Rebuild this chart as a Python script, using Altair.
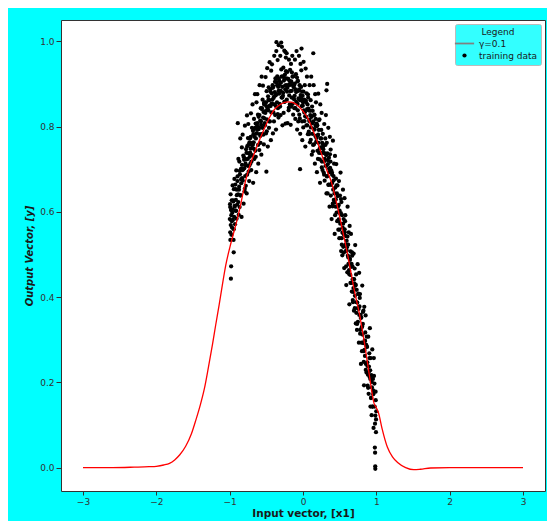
import altair as alt
import pandas as pd

# ---- red fitted curve (gamma = 0.1) ----
curve_x = [-3.0, -2.6, -2.3, -2.1, -2.0, -1.9, -1.82, -1.75, -1.68, -1.6, -1.52, -1.46, -1.4, -1.345,
           -1.29, -1.233, -1.19, -1.143, -1.1, -1.053, -1.0, -0.95, -0.9, -0.85, -0.78, -0.7, -0.62,
           -0.54, -0.46, -0.4, -0.3, -0.2, -0.12, -0.05, 0.0, 0.07, 0.12, 0.2, 0.25, 0.32, 0.39, 0.45,
           0.5, 0.56, 0.61, 0.66, 0.7, 0.77, 0.84, 0.9, 0.97, 1.0, 1.03, 1.08, 1.15, 1.22, 1.29, 1.4,
           1.51, 1.6, 1.74, 2.0, 2.5, 3.0]
curve_y = [0.0, 0.0, 0.001, 0.002, 0.003, 0.006, 0.01, 0.018, 0.03, 0.05, 0.08, 0.112, 0.147, 0.185,
           0.235, 0.29, 0.335, 0.382, 0.428, 0.475, 0.515, 0.548, 0.58, 0.617, 0.675, 0.72, 0.757,
           0.79, 0.82, 0.838, 0.853, 0.858, 0.855, 0.846, 0.836, 0.818, 0.798, 0.762, 0.737, 0.7, 0.668,
           0.627, 0.588, 0.54, 0.498, 0.452, 0.415, 0.36, 0.29, 0.222, 0.15, 0.14, 0.128, 0.09, 0.048,
           0.025, 0.012, 0.0, -0.005, -0.004, -0.001, 0.0, 0.0, 0.0]

# ---- training data, grouped by x slices ----
train_x = [
    [-0.998, -0.995, -0.992, -0.99, -0.987, -0.985, -0.982, -0.98, -0.978, -0.976, -0.983, -0.993],
    [-0.972, -0.968, -0.964, -0.96, -0.955, -0.951, -0.947, -0.943, -0.939, -0.935, -0.931, -0.927, -0.945],
    [-0.923, -0.919, -0.915, -0.91, -0.906, -0.902, -0.897, -0.893, -0.889, -0.885, -0.881, -0.877],
    [-0.873, -0.868, -0.864, -0.86, -0.855, -0.851, -0.846, -0.842, -0.838, -0.834, -0.83, -0.826],
    [-0.823, -0.818, -0.814, -0.81, -0.805, -0.801, -0.796, -0.792, -0.788, -0.784, -0.78, -0.776],
    [-0.773, -0.768, -0.764, -0.76, -0.755, -0.751, -0.746, -0.742, -0.738, -0.734, -0.73, -0.726],
    [-0.723, -0.718, -0.714, -0.71, -0.705, -0.701, -0.696, -0.692, -0.688, -0.684, -0.68, -0.676],
    [-0.673, -0.668, -0.664, -0.66, -0.655, -0.651, -0.646, -0.642, -0.638, -0.634, -0.63, -0.626],
    [-0.623, -0.618, -0.614, -0.61, -0.605, -0.601, -0.596, -0.592, -0.588, -0.584, -0.58, -0.576],
    [-0.573, -0.568, -0.564, -0.56, -0.555, -0.551, -0.546, -0.542, -0.538, -0.534, -0.53, -0.526],
    [-0.523, -0.518, -0.514, -0.51, -0.505, -0.501, -0.496, -0.492, -0.488, -0.484, -0.48, -0.476, -0.499],
    [-0.473, -0.468, -0.464, -0.46, -0.455, -0.451, -0.446, -0.442, -0.438, -0.434, -0.43, -0.426],
    [-0.423, -0.418, -0.414, -0.41, -0.405, -0.401, -0.396, -0.392, -0.388, -0.384, -0.38, -0.376],
    [-0.373, -0.368, -0.364, -0.36, -0.355, -0.351, -0.346, -0.342, -0.338, -0.334, -0.33, -0.326, -0.362, -0.332],
    [-0.323, -0.318, -0.314, -0.31, -0.305, -0.301, -0.296, -0.292, -0.288, -0.284, -0.28, -0.276, -0.297],
    [-0.273, -0.268, -0.264, -0.26, -0.255, -0.251, -0.246, -0.242, -0.238, -0.234, -0.23, -0.226, -0.24],
    [-0.223, -0.218, -0.214, -0.21, -0.205, -0.201, -0.196, -0.192, -0.188, -0.184, -0.18, -0.176],
    [-0.173, -0.168, -0.164, -0.16, -0.155, -0.151, -0.146, -0.142, -0.138, -0.134, -0.13, -0.126],
    [-0.123, -0.118, -0.114, -0.11, -0.105, -0.101, -0.096, -0.092, -0.088, -0.084, -0.08, -0.076],
    [-0.073, -0.068, -0.064, -0.06, -0.055, -0.051, -0.046, -0.042, -0.038, -0.034, -0.03, -0.026, -0.04],
    [-0.023, -0.018, -0.014, -0.01, -0.005, -0.001, 0.004, 0.008, 0.012, 0.016, 0.02, 0.024, -0.02],
    [0.027, 0.032, 0.036, 0.04, 0.045, 0.049, 0.054, 0.058, 0.062, 0.066, 0.07, 0.074],
    [0.077, 0.082, 0.086, 0.09, 0.095, 0.099, 0.104, 0.108, 0.112, 0.116, 0.12, 0.124],
    [0.127, 0.132, 0.136, 0.14, 0.145, 0.149, 0.154, 0.158, 0.162, 0.166, 0.17, 0.174, 0.14],
    [0.177, 0.182, 0.186, 0.19, 0.195, 0.199, 0.204, 0.208, 0.212, 0.216, 0.22, 0.224],
    [0.227, 0.232, 0.236, 0.24, 0.245, 0.249, 0.254, 0.258, 0.262, 0.266, 0.27, 0.274],
    [0.277, 0.282, 0.286, 0.29, 0.295, 0.299, 0.304, 0.308, 0.312, 0.316, 0.32, 0.324, 0.33, 0.32],
    [0.327, 0.332, 0.336, 0.34, 0.345, 0.349, 0.354, 0.358, 0.362, 0.366, 0.37, 0.374],
    [0.377, 0.382, 0.386, 0.39, 0.395, 0.399, 0.404, 0.408, 0.412, 0.416, 0.42, 0.424],
    [0.427, 0.432, 0.436, 0.44, 0.445, 0.449, 0.454, 0.458, 0.462, 0.466, 0.47, 0.474],
    [0.477, 0.482, 0.486, 0.49, 0.495, 0.499, 0.504, 0.508, 0.512, 0.516, 0.52, 0.524],
    [0.527, 0.532, 0.536, 0.54, 0.545, 0.549, 0.554, 0.558, 0.562, 0.566, 0.57, 0.574],
    [0.577, 0.582, 0.586, 0.59, 0.595, 0.599, 0.604, 0.608, 0.612, 0.616, 0.62, 0.624],
    [0.627, 0.632, 0.636, 0.64, 0.645, 0.649, 0.654, 0.658, 0.662, 0.666, 0.67, 0.674],
    [0.677, 0.682, 0.686, 0.69, 0.695, 0.699, 0.704, 0.708, 0.712, 0.716, 0.72, 0.724],
    [0.727, 0.732, 0.736, 0.74, 0.745, 0.749, 0.754, 0.758, 0.762, 0.766, 0.77, 0.774],
    [0.777, 0.782, 0.786, 0.79, 0.795, 0.799, 0.804, 0.808, 0.812, 0.816, 0.82, 0.824],
    [0.827, 0.832, 0.836, 0.84, 0.845, 0.849, 0.854, 0.858, 0.862, 0.866, 0.87, 0.874],
    [0.877, 0.882, 0.886, 0.89, 0.895, 0.899, 0.904, 0.908, 0.912, 0.916, 0.92, 0.924],
    [0.927, 0.932, 0.936, 0.94, 0.945, 0.949, 0.954, 0.958, 0.962, 0.966, 0.97, 0.974],
    [0.977, 0.982, 0.986, 0.99, 0.995, 0.999, 0.98, 0.983, 0.985, 0.986, 0.992, 0.996],
    # denser core of the cloud
    [-0.971, -0.962, -0.953, -0.944, -0.932],
    [-0.921, -0.912, -0.903, -0.894, -0.882],
    [-0.871, -0.862, -0.853, -0.844, -0.832],
    [-0.821, -0.812, -0.803, -0.794, -0.782],
    [-0.771, -0.762, -0.753, -0.744, -0.732],
    [-0.721, -0.712, -0.703, -0.694, -0.682],
    [-0.671, -0.662, -0.653, -0.644, -0.632],
    [-0.621, -0.612, -0.603, -0.594, -0.582],
    [-0.571, -0.562, -0.553, -0.544, -0.532],
    [-0.521, -0.512, -0.503, -0.494, -0.482],
    [-0.471, -0.462, -0.453, -0.444, -0.432],
    [-0.421, -0.412, -0.403, -0.394, -0.382],
    [-0.371, -0.362, -0.353, -0.344, -0.332],
    [-0.321, -0.312, -0.303, -0.294, -0.282],
    [-0.271, -0.262, -0.253, -0.244, -0.232],
    [-0.221, -0.212, -0.203, -0.194, -0.182],
    [-0.171, -0.162, -0.153, -0.144, -0.132],
    [-0.121, -0.112, -0.103, -0.094, -0.082],
    [-0.071, -0.062, -0.053, -0.044, -0.032],
    [-0.021, -0.012, -0.003, 0.006, 0.018],
    [0.029, 0.038, 0.047, 0.056, 0.068],
    [0.079, 0.088, 0.097, 0.106, 0.118],
    [0.129, 0.138, 0.147, 0.156, 0.168],
    [0.179, 0.188, 0.197, 0.206, 0.218],
    [0.229, 0.238, 0.247, 0.256, 0.268],
    [0.279, 0.288, 0.297, 0.306, 0.318],
    [0.329, 0.338, 0.347, 0.356, 0.368],
    [0.379, 0.388, 0.397, 0.406, 0.418],
    [0.429, 0.438, 0.447, 0.456, 0.468],
    [0.479, 0.488, 0.497, 0.506, 0.518],
    [0.529, 0.538, 0.547, 0.556, 0.568],
    [0.579, 0.588, 0.597, 0.606, 0.618],
    [0.629, 0.638, 0.647, 0.656, 0.668],
    [0.679, 0.688, 0.697, 0.706, 0.718],
    [0.729, 0.738, 0.747, 0.756, 0.768],
    [0.779, 0.788, 0.797, 0.806, 0.818],
    [0.829, 0.838, 0.847, 0.856, 0.868],
    [0.879, 0.888, 0.897, 0.906, 0.918],
    [0.929, 0.938, 0.947, 0.956, 0.968],
]
train_y = [
    [0.583, 0.618, 0.552, 0.534, 0.641, 0.569, 0.604, 0.472, 0.592, 0.546, 0.443, 0.611],
    [0.627, 0.563, 0.598, 0.662, 0.581, 0.624, 0.534, 0.653, 0.588, 0.677, 0.612, 0.571, 0.505],
    [0.664, 0.603, 0.628, 0.697, 0.584, 0.652, 0.617, 0.683, 0.808, 0.641, 0.724, 0.593],
    [0.652, 0.718, 0.611, 0.688, 0.772, 0.639, 0.701, 0.667, 0.588, 0.751, 0.679, 0.698],
    [0.781, 0.699, 0.732, 0.619, 0.728, 0.702, 0.648, 0.802, 0.684, 0.713, 0.661, 0.747],
    [0.723, 0.643, 0.826, 0.754, 0.708, 0.773, 0.806, 0.694, 0.737, 0.672, 0.763, 0.729],
    [0.772, 0.713, 0.748, 0.831, 0.698, 0.761, 0.797, 0.733, 0.852, 0.758, 0.668, 0.782],
    [0.763, 0.818, 0.724, 0.794, 0.876, 0.743, 0.807, 0.772, 0.693, 0.857, 0.784, 0.801],
    [0.876, 0.793, 0.828, 0.713, 0.823, 0.798, 0.745, 0.897, 0.782, 0.814, 0.762, 0.843],
    [0.812, 0.734, 0.917, 0.843, 0.797, 0.863, 0.896, 0.781, 0.834, 0.758, 0.852, 0.819],
    [0.857, 0.803, 0.832, 0.916, 0.784, 0.848, 0.883, 0.817, 0.937, 0.842, 0.753, 0.871, 0.694],
    [0.838, 0.892, 0.797, 0.862, 0.951, 0.812, 0.887, 0.848, 0.768, 0.931, 0.853, 0.878],
    [0.946, 0.863, 0.897, 0.784, 0.893, 0.867, 0.812, 0.966, 0.852, 0.881, 0.827, 0.913],
    [0.873, 0.793, 0.977, 0.904, 0.857, 0.918, 0.956, 0.843, 0.893, 0.821, 0.912, 0.877, 0.998, 0.991],
    [0.907, 0.853, 0.882, 0.966, 0.827, 0.903, 0.934, 0.868, 0.987, 0.893, 0.803, 0.918, 0.997],
    [0.872, 0.938, 0.832, 0.908, 0.978, 0.858, 0.922, 0.887, 0.807, 0.962, 0.897, 0.913, 0.975],
    [0.972, 0.882, 0.928, 0.808, 0.912, 0.897, 0.838, 0.957, 0.873, 0.907, 0.852, 0.933],
    [0.883, 0.804, 0.947, 0.906, 0.868, 0.927, 0.966, 0.853, 0.897, 0.828, 0.918, 0.892],
    [0.897, 0.843, 0.872, 0.957, 0.818, 0.887, 0.923, 0.858, 0.977, 0.884, 0.793, 0.906],
    [0.853, 0.907, 0.812, 0.884, 0.966, 0.828, 0.897, 0.862, 0.783, 0.947, 0.868, 0.893, 0.70],
    [0.932, 0.848, 0.882, 0.768, 0.872, 0.857, 0.798, 0.952, 0.838, 0.863, 0.813, 0.897, 0.983],
    [0.834, 0.753, 0.936, 0.857, 0.823, 0.878, 0.917, 0.803, 0.852, 0.782, 0.868, 0.842],
    [0.838, 0.782, 0.813, 0.897, 0.763, 0.827, 0.862, 0.798, 0.917, 0.823, 0.734, 0.847],
    [0.783, 0.837, 0.742, 0.812, 0.897, 0.758, 0.828, 0.793, 0.713, 0.876, 0.802, 0.818, 0.972],
    [0.857, 0.773, 0.807, 0.693, 0.803, 0.778, 0.724, 0.877, 0.762, 0.792, 0.738, 0.817],
    [0.748, 0.668, 0.852, 0.772, 0.738, 0.792, 0.832, 0.718, 0.762, 0.698, 0.783, 0.753],
    [0.747, 0.692, 0.718, 0.806, 0.673, 0.737, 0.772, 0.708, 0.827, 0.733, 0.643, 0.762, 0.90, 0.885],
    [0.683, 0.737, 0.643, 0.712, 0.797, 0.664, 0.727, 0.693, 0.612, 0.776, 0.703, 0.718],
    [0.746, 0.663, 0.697, 0.583, 0.692, 0.668, 0.613, 0.767, 0.652, 0.684, 0.628, 0.713],
    [0.622, 0.548, 0.731, 0.657, 0.612, 0.678, 0.712, 0.598, 0.643, 0.578, 0.662, 0.637],
    [0.612, 0.558, 0.582, 0.672, 0.538, 0.603, 0.638, 0.572, 0.692, 0.597, 0.508, 0.623],
    [0.538, 0.592, 0.498, 0.563, 0.652, 0.518, 0.583, 0.547, 0.468, 0.632, 0.552, 0.578],
    [0.592, 0.508, 0.543, 0.428, 0.532, 0.517, 0.458, 0.612, 0.497, 0.523, 0.478, 0.552],
    [0.463, 0.383, 0.567, 0.487, 0.452, 0.507, 0.548, 0.433, 0.478, 0.413, 0.497, 0.472],
    [0.442, 0.388, 0.412, 0.502, 0.368, 0.432, 0.467, 0.403, 0.522, 0.427, 0.338, 0.453],
    [0.363, 0.417, 0.323, 0.387, 0.477, 0.342, 0.408, 0.372, 0.293, 0.457, 0.378, 0.398],
    [0.407, 0.323, 0.358, 0.243, 0.352, 0.328, 0.273, 0.427, 0.312, 0.337, 0.292, 0.368],
    [0.273, 0.193, 0.377, 0.298, 0.262, 0.317, 0.357, 0.243, 0.288, 0.223, 0.307, 0.283],
    [0.247, 0.192, 0.218, 0.307, 0.173, 0.237, 0.268, 0.213, 0.327, 0.228, 0.143, 0.257],
    [0.163, 0.217, 0.123, 0.188, 0.277, 0.143, 0.208, 0.172, 0.093, 0.257, 0.178, 0.197],
    [0.143, 0.103, 0.122, 0.178, 0.083, 0.132, 0.047, 0.035, 0.003, -0.003, 0.158, 0.113],
    # denser core of the cloud
    [0.578, 0.606, 0.627, 0.559, 0.614],
    [0.653, 0.602, 0.639, 0.672, 0.623],
    [0.659, 0.696, 0.638, 0.676, 0.71],
    [0.673, 0.701, 0.722, 0.654, 0.709],
    [0.738, 0.687, 0.724, 0.757, 0.708],
    [0.739, 0.776, 0.718, 0.756, 0.79],
    [0.748, 0.776, 0.797, 0.729, 0.784],
    [0.808, 0.757, 0.794, 0.827, 0.778],
    [0.804, 0.841, 0.783, 0.821, 0.855],
    [0.808, 0.836, 0.857, 0.789, 0.844],
    [0.863, 0.812, 0.849, 0.882, 0.833],
    [0.854, 0.891, 0.833, 0.871, 0.905],
    [0.848, 0.876, 0.897, 0.829, 0.884],
    [0.898, 0.847, 0.884, 0.917, 0.868],
    [0.879, 0.916, 0.858, 0.896, 0.93],
    [0.863, 0.891, 0.912, 0.844, 0.899],
    [0.898, 0.847, 0.884, 0.917, 0.868],
    [0.864, 0.901, 0.843, 0.881, 0.915],
    [0.838, 0.866, 0.887, 0.819, 0.874],
    [0.863, 0.812, 0.849, 0.882, 0.833],
    [0.824, 0.861, 0.803, 0.841, 0.875],
    [0.788, 0.816, 0.837, 0.769, 0.824],
    [0.808, 0.757, 0.794, 0.827, 0.778],
    [0.764, 0.801, 0.743, 0.781, 0.815],
    [0.723, 0.751, 0.772, 0.704, 0.759],
    [0.738, 0.687, 0.724, 0.757, 0.708],
    [0.684, 0.721, 0.663, 0.701, 0.735],
    [0.638, 0.666, 0.687, 0.619, 0.674],
    [0.643, 0.592, 0.629, 0.662, 0.613],
    [0.579, 0.616, 0.558, 0.596, 0.63],
    [0.523, 0.551, 0.572, 0.504, 0.559],
    [0.523, 0.472, 0.509, 0.542, 0.493],
    [0.454, 0.491, 0.433, 0.471, 0.505],
    [0.393, 0.421, 0.442, 0.374, 0.429],
    [0.388, 0.337, 0.374, 0.407, 0.358],
    [0.314, 0.351, 0.293, 0.331, 0.365],
    [0.248, 0.276, 0.297, 0.229, 0.284],
    [0.238, 0.187, 0.224, 0.257, 0.208],
    [0.164, 0.201, 0.143, 0.181, 0.215],
]

x_ticks = [-3, -2, -1, 0, 1, 2, 3]
y_ticks = [0.0, 0.2, 0.4, 0.6, 0.8, 1.0]
legend_labels = ["γ=0.1", "training data"]
legend_colors = ["#808080", "black"]
legend_shapes = ["M-1.75,-0.16L1.75,-0.16L1.75,0.16L-1.75,0.16Z", "circle"]
legend_sizes = [121, 18]

px, py = [], []
for xs, ys in zip(train_x, train_y):
    for a, b in zip(xs, ys):
        px.append(a)
        py.append(b)
points_df = pd.DataFrame({"x": px, "y": py, "series": [legend_labels[1]] * len(px)})
curve_df = pd.DataFrame({"x": curve_x, "y": curve_y})

FONT = "DejaVu Sans"
xscale = alt.Scale(domain=[-3.3, 3.3], nice=False, zero=False)
yscale = alt.Scale(domain=[-0.055, 1.05], nice=False, zero=False)

xaxis = alt.Axis(values=x_ticks, format="d", title="Input vector, [x1]", titleFontWeight="bold",
                 titleFontSize=10.5, titleColor="#1a1a1a", titlePadding=2, labelFontSize=9,
                 labelColor="#333333", tickSize=4, tickColor="#333333", domain=False, grid=False,
                 labelPadding=2)
yaxis = alt.Axis(values=y_ticks, format=".1f", title="Output Vector, [y]", titleFontWeight="bold",
                 titleFontStyle="italic", titleFontSize=10, titleColor="#1a1a1a", titlePadding=5,
                 labelFontSize=9, labelColor="#333333", tickSize=5, tickColor="#333333",
                 domain=False, grid=False, labelPadding=2)

legend = alt.Legend(
    title="Legend", orient="top-right", offset=4, fillColor="#33ffff", strokeColor="#bbbbbb",
    padding=4, cornerRadius=2, titleFontSize=9, titleFontWeight="normal", titleColor="#1a1a1a",
    titleAnchor="middle", titlePadding=1, labelFontSize=9, labelColor="#1a1a1a", labelOffset=9,
    symbolStrokeWidth=0, symbolOpacity=1,
)

points = alt.Chart(points_df).mark_point(filled=True, opacity=1).encode(
    x=alt.X("x:Q", scale=xscale, axis=xaxis),
    y=alt.Y("y:Q", scale=yscale, axis=yaxis),
    color=alt.Color("series:N", scale=alt.Scale(domain=legend_labels, range=legend_colors),
                    legend=legend),
    shape=alt.Shape("series:N", scale=alt.Scale(domain=legend_labels, range=legend_shapes),
                    legend=legend),
    size=alt.Size("series:N", scale=alt.Scale(type="ordinal", domain=legend_labels, range=legend_sizes),
                  legend=legend),
)

line = alt.Chart(curve_df).mark_line(color="red", strokeWidth=1.3, interpolate="monotone").encode(
    x=alt.X("x:Q", scale=xscale),
    y=alt.Y("y:Q", scale=yscale),
)

chart = alt.layer(points, line).properties(
    width=484, height=471,
    autosize=alt.AutoSizeParams(type="none"),
    padding={"left": 53, "top": 12, "right": 2, "bottom": 30},
    background="#00ffff",
).configure(font=FONT).configure_view(fill="white", stroke="#333333", strokeWidth=1)

chart.save("out.html", embed_options={"renderer": "svg", "actions": False})
